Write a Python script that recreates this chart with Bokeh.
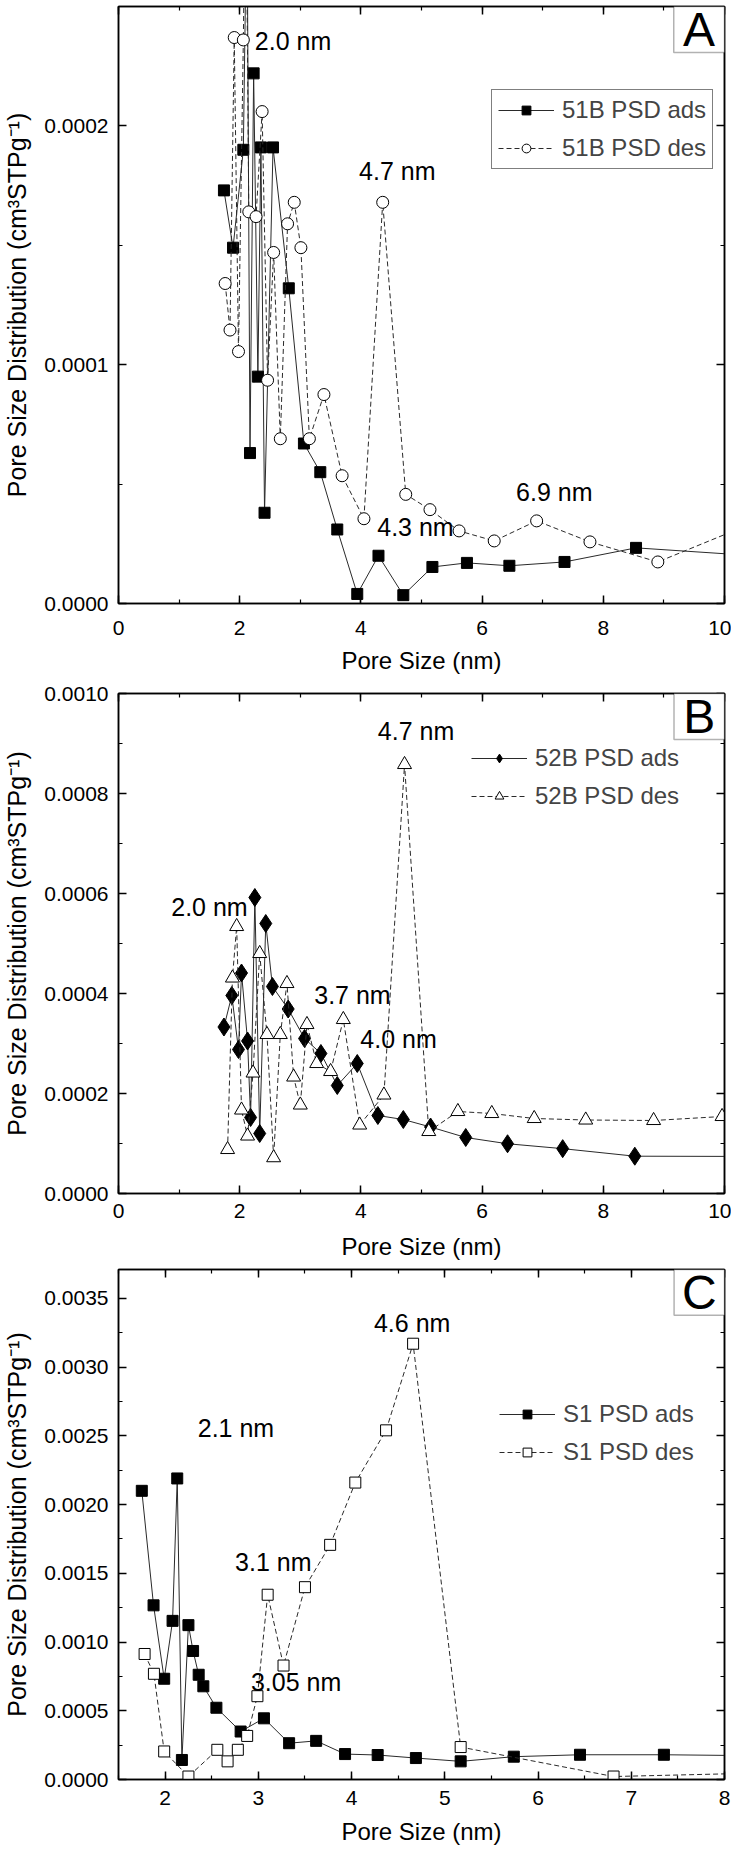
from bokeh.plotting import figure
from bokeh.models import (ColumnDataSource, SingleIntervalTicker, LinearAxis, NumeralTickFormatter,
                          Range1d, Legend, LegendItem, BoxAnnotation, Label, CustomLabelingPolicy)
from bokeh.layouts import column
from bokeh.embed import file_html
from bokeh.resources import INLINE
from bokeh.core.properties import value

FONT = "Liberation Sans"
YLABEL = "Pore Size Distribution (cm\u00b3STPg\u207b\u00b9)"
XLABEL = "Pore Size (nm)"

# ---------------- Panel A : 51B ----------------
a_ads_x = [1.74, 1.89, 2.06, 2.12, 2.17, 2.23, 2.30, 2.35, 2.41, 2.55, 2.81, 3.06, 3.33, 3.61, 3.94,
           4.29, 4.70, 5.18, 5.75, 6.45, 7.36, 8.54, 10.5]
a_ads_y = [1.73e-4, 1.49e-4, 1.90e-4, 3.0e-4, 0.63e-4, 2.22e-4, 0.95e-4, 1.91e-4, 0.38e-4, 1.91e-4,
           1.32e-4, 0.67e-4, 0.55e-4, 0.31e-4, 0.04e-4, 0.20e-4, 0.035e-4, 0.153e-4, 0.170e-4,
           0.158e-4, 0.174e-4, 0.233e-4, 0.20e-4]
a_des_x = [1.76, 1.84, 1.91, 1.98, 2.06, 2.10, 2.15, 2.27, 2.37, 2.46, 2.56, 2.67, 2.79, 2.90, 3.01,
           3.15, 3.39, 3.69, 4.05, 4.36, 4.74, 5.14, 5.62, 6.20, 6.90, 7.78, 8.90, 10.4]
a_des_y = [1.34e-4, 1.145e-4, 2.37e-4, 1.055e-4, 2.36e-4, 3.2e-4, 1.64e-4, 1.62e-4, 2.06e-4, 0.935e-4,
           1.47e-4, 0.69e-4, 1.59e-4, 1.68e-4, 1.49e-4, 0.69e-4, 0.875e-4, 0.535e-4, 0.355e-4,
           1.68e-4, 0.457e-4, 0.393e-4, 0.304e-4, 0.262e-4, 0.346e-4, 0.258e-4, 0.174e-4, 0.33e-4]
a_notes = ["2.0 nm", "4.7 nm", "4.3 nm", "6.9 nm"]
a_note_x = [2.25, 3.97, 4.27, 6.56]
a_note_y = [2.357e-4, 1.81e-4, 0.32e-4, 0.467e-4]

# ---------------- Panel B : 52B ----------------
b_ads_x = [1.74, 1.87, 1.98, 2.03, 2.13, 2.18, 2.25, 2.33, 2.43, 2.54, 2.80, 3.07, 3.34, 3.61, 3.94,
           4.28, 4.70, 5.15, 5.73, 6.42, 7.33, 8.52, 10.8]
b_ads_y = [3.33e-4, 3.96e-4, 2.88e-4, 4.41e-4, 3.05e-4, 1.52e-4, 5.92e-4, 1.20e-4, 5.40e-4, 4.14e-4,
           3.69e-4, 3.10e-4, 2.80e-4, 2.16e-4, 2.60e-4, 1.56e-4, 1.48e-4, 1.33e-4, 1.12e-4,
           0.995e-4, 0.897e-4, 0.746e-4, 0.74e-4]
b_des_x = [1.80, 1.88, 1.95, 2.03, 2.13, 2.22, 2.33, 2.45, 2.56, 2.67, 2.78, 2.89, 3.00, 3.11, 3.27,
           3.50, 3.71, 3.98, 4.38, 4.72, 5.12, 5.60, 6.16, 6.86, 7.71, 8.83, 9.96]
b_des_y = [0.88e-4, 4.31e-4, 5.34e-4, 1.67e-4, 1.15e-4, 2.41e-4, 4.80e-4, 3.18e-4, 0.716e-4, 3.18e-4,
           4.20e-4, 2.33e-4, 1.77e-4, 3.38e-4, 2.60e-4, 2.44e-4, 3.48e-4, 1.37e-4, 1.97e-4,
           8.58e-4, 1.24e-4, 1.64e-4, 1.60e-4, 1.50e-4, 1.47e-4, 1.46e-4, 1.54e-4]
b_notes = ["4.7 nm", "2.0 nm", "3.7 nm", "4.0 nm"]
b_note_x = [4.28, 0.87, 3.23, 3.99]
b_note_y = [9.25e-4, 5.74e-4, 3.97e-4, 3.10e-4]

# ---------------- Panel C : S1 ----------------
c_ads_x = [1.75, 1.876, 1.99, 2.08, 2.13, 2.18, 2.25, 2.30, 2.36, 2.41, 2.55, 2.81, 3.06, 3.33, 3.62,
           3.93, 4.28, 4.69, 5.17, 5.74, 6.45, 7.35, 8.5]
c_ads_y = [2.10e-3, 1.267e-3, 0.733e-3, 1.154e-3, 2.19e-3, 0.142e-3, 1.123e-3, 0.935e-3, 0.762e-3,
           0.678e-3, 0.522e-3, 0.349e-3, 0.445e-3, 0.264e-3, 0.281e-3, 0.185e-3, 0.178e-3, 0.156e-3,
           0.132e-3, 0.166e-3, 0.180e-3, 0.180e-3, 0.172e-3]
c_des_x = [1.78, 1.88, 1.99, 2.25, 2.56, 2.67, 2.78, 2.88, 2.99, 3.10, 3.27, 3.50, 3.77, 4.04, 4.37,
           4.66, 5.17, 6.81, 9.0]
c_des_y = [0.913e-3, 0.769e-3, 0.204e-3, 0.0216e-3, 0.216e-3, 0.132e-3, 0.216e-3, 0.317e-3, 0.606e-3,
           1.344e-3, 0.829e-3, 1.399e-3, 1.707e-3, 2.16e-3, 2.54e-3, 3.17e-3, 0.236e-3, 0.0216e-3,
           0.057e-3]
c_notes = ["4.6 nm", "2.1 nm", "3.1 nm", "3.05 nm"]
c_note_x = [4.24, 2.35, 2.75, 2.92]
c_note_y = [3.32e-3, 2.56e-3, 1.584e-3, 0.707e-3]

HIDE_LABELS = "for (const i of indices) { indices.unset(i) }\nreturn indices"


def make_panel(height, xr, yr, borders, xint, yint, letter, series, notes, legend_loc,
               legend_border, x_stand, x_lab_stand, frame_w, frame_h):
    bl, br, bt, bb = borders
    p = figure(width=731, height=height, x_range=Range1d(*xr), y_range=Range1d(*yr),
               output_backend="svg", toolbar_location=None,
               min_border_left=bl, min_border_right=br, min_border_top=bt, min_border_bottom=bb,
               background_fill_color="white", border_fill_color="white")
    p.grid.visible = False
    p.outline_line_color = "black"
    p.outline_line_width = 1.5

    xt = SingleIntervalTicker(interval=xint, num_minor_ticks=2)
    yt = SingleIntervalTicker(interval=yint, num_minor_ticks=2)

    def style(ax, show):
        ax.axis_line_width = 1.5
        ax.major_tick_line_width = 1.5
        ax.minor_tick_line_width = 1.2
        ax.major_tick_in = 8
        ax.major_tick_out = 0
        ax.minor_tick_in = 4
        ax.minor_tick_out = 0
        ax.major_label_text_font = FONT
        ax.major_label_text_color = "black"
        ax.axis_label_text_font = FONT
        ax.axis_label_text_font_style = "normal"
        ax.axis_label_text_color = "black"
        if not show:
            ax.major_label_text_font_size = "1px"
            ax.major_label_standoff = 0
            ax.major_label_policy = CustomLabelingPolicy(code=HIDE_LABELS)
        else:
            ax.major_label_text_font_size = "21px"
            ax.axis_label_text_font_size = "24px"

    xa = p.xaxis[0]
    xa.ticker = xt
    xa.axis_label = XLABEL
    style(xa, True)
    xa.major_label_standoff = x_stand
    xa.axis_label_standoff = x_lab_stand

    ya = p.yaxis[0]
    ya.ticker = yt
    ya.formatter = NumeralTickFormatter(format="0.0000")
    ya.axis_label = YLABEL
    style(ya, True)
    ya.axis_label_text_font_size = "25px"
    ya.major_label_standoff = 10
    ya.axis_label_standoff = 10

    top = LinearAxis(ticker=xt)
    style(top, False)
    p.add_layout(top, "above")
    right = LinearAxis(ticker=yt)
    style(right, False)
    p.add_layout(right, "right")

    items = []
    for (label, xs, ys, marker, fill, size, dash) in series:
        src = ColumnDataSource(dict(x=xs, y=ys))
        ln = p.line("x", "y", source=src, line_color="#2a2a2a", line_width=1, line_dash=dash)
        sc = p.scatter("x", "y", source=src, marker=marker, size=size, fill_color=fill,
                       line_color="black", line_width=1)
        items.append(LegendItem(label=label, renderers=[ln, sc]))

    nt, nx, ny = notes
    nsrc = ColumnDataSource(dict(x=nx, y=ny, t=nt))
    p.text("x", "y", text="t", source=nsrc, text_font=value(FONT), text_font_size="25px",
           text_align="left", text_baseline="middle", text_color="black")

    leg = Legend(items=items, location=legend_loc)
    leg.label_text_font = FONT
    leg.label_text_font_size = "24px"
    leg.glyph_width = 56
    leg.glyph_height = 22
    leg.label_height = 22
    leg.label_standoff = 8
    leg.padding = 6
    leg.spacing = 10
    leg.margin = 0
    leg.background_fill_color = "white"
    leg.background_fill_alpha = 1.0
    if legend_border:
        leg.border_line_color = "black"
        leg.border_line_width = 1
    else:
        leg.border_line_color = None
    p.add_layout(leg)

    # letter box in the top-right corner (sizes in pixels converted to data units)
    bw, bh = 51, 46
    xs0, xs1 = xr
    ys0, ys1 = yr
    left = xs1 - bw / frame_w * (xs1 - xs0)
    bottom = ys1 - bh / frame_h * (ys1 - ys0)
    box = BoxAnnotation(left=left, right=xs1, bottom=bottom, top=ys1, fill_color="white",
                        fill_alpha=1.0, line_color="black", line_width=1.5)
    p.add_layout(box)
    lab = Label(x=(left + xs1) / 2, y=(bottom + ys1) / 2, text=letter, text_font=FONT,
                text_font_size="48px", text_align="center", text_baseline="middle",
                text_color="black")
    p.add_layout(lab)
    return p


pA = make_panel(
    682, (0, 10), (0, 0.00025), (118, 4, 6, 79), 2, 0.0001, "A",
    [("51B PSD ads", a_ads_x, a_ads_y, "square", "black", 11, "solid"),
     ("51B PSD des", a_des_x, a_des_y, "circle", "white", 12, "5 3")],
    (a_notes, a_note_x, a_note_y), (373, 434), True, 17, 9, 609, 597)

pB = make_panel(
    580, (0, 10), (0, 0.0010000001), (114, 5, 11, 69), 2, 0.0002, "B",
    [("52B PSD ads", b_ads_x, b_ads_y, "diamond", "black", 18, "solid"),
     ("52B PSD des", b_des_x, b_des_y, "triangle", "white", 14, "5 3")],
    (b_notes, b_note_x, b_note_y), (353, 383), False, 10, 12, 612, 500)

pC = make_panel(
    585, (1.5, 8), (0, 0.00371), (116, 2, 7, 65), 1, 0.0005, "C",
    [("S1 PSD ads", c_ads_x, c_ads_y, "square", "black", 11, "solid"),
     ("S1 PSD des", c_des_x, c_des_y, "square", "white", 11, "5 3")],
    (c_notes, c_note_x, c_note_y), (381, 313), False, 11, 10, 613, 513)

layout = column(pA, pB, pC, spacing=0)
open("out.html", "w").write(file_html(layout, INLINE))
